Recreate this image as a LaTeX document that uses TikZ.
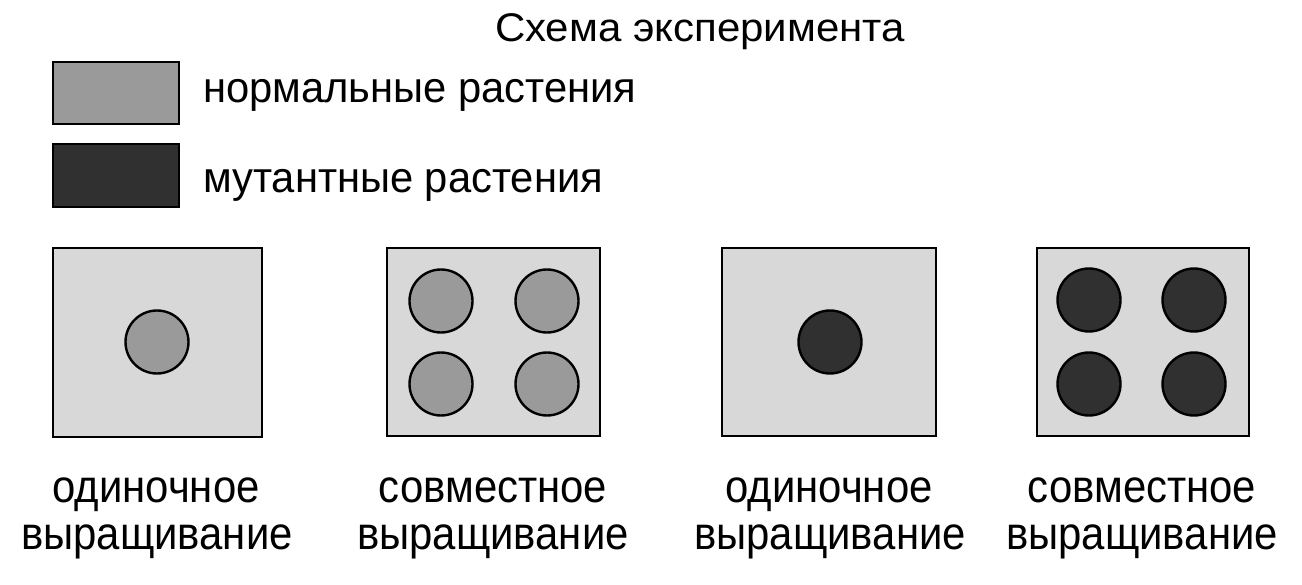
\documentclass[tikz,border=0pt]{standalone}
\usepackage{fontspec}
\setmainfont{Liberation Sans}
\newfontfamily\titlefont[FakeStretch=1.05]{Liberation Sans}
\newfontfamily\legfont[FakeStretch=0.97]{Liberation Sans}
\newfontfamily\capfont[FakeStretch=0.91]{Liberation Sans}
\definecolor{panelfill}{HTML}{D8D8D8}
\definecolor{normfill}{HTML}{9A9A9A}
\definecolor{mutfill}{HTML}{303030}
\begin{document}
\begin{tikzpicture}[x=1pt,y=-1pt,
  panel/.style={draw=black,line width=2pt,fill=panelfill},
  legendbox/.style={draw=black,line width=2pt},
  plant/.style={circle,draw=black,line width=2.4pt,inner sep=0pt,minimum size=63pt},
  normal/.style={plant,fill=normfill},
  mutant/.style={plant,fill=mutfill},
  titletext/.style={font=\titlefont\fontsize{40}{44}\selectfont,anchor=base,inner sep=0pt},
  legtext/.style={font=\legfont\fontsize{43}{50}\selectfont,anchor=base west,inner sep=0pt},
  captext/.style={font=\capfont\fontsize{46}{47}\selectfont,anchor=base,inner sep=0pt}]
\useasboundingbox (0,0) rectangle (1302,585);
\fill[white] (0,0) rectangle (1302,585);
% title
\node[titletext] (title) at (700,42) {Схема эксперимента};
% legend
\draw[legendbox,fill=normfill] (53,62) rectangle (179,124);
\node[legtext] (lnorm) at (203,103) {нормальные растения};
\draw[legendbox,fill=mutfill] (53,144) rectangle (179,207);
\node[legtext] (lmut) at (203,193) {мутантные растения};
% panels
\draw[panel] (53,248) rectangle (262,437);
\node[normal] (p1c) at (157,342) {};
\draw[panel] (387,248) rectangle (600,436);
\node[normal] (p2a) at (441,301) {};
\node[normal] (p2b) at (547,301) {};
\node[normal] (p2c) at (441,384) {};
\node[normal] (p2d) at (547,384) {};
\draw[panel] (722,248) rectangle (936,436);
\node[mutant] (p3c) at (830,342) {};
\draw[panel] (1037,248) rectangle (1249,436);
\node[mutant] (p4a) at (1089,300) {};
\node[mutant] (p4b) at (1194,300) {};
\node[mutant] (p4c) at (1089,384) {};
\node[mutant] (p4d) at (1194,384) {};
% captions
\node[captext] (c1a) at (156,502) {одиночное};
\node[captext] (c1b) at (157,549) {выращивание};
\node[captext] (c2a) at (493,502) {совместное};
\node[captext] (c2b) at (493,549) {выращивание};
\node[captext] (c3a) at (829,502) {одиночное};
\node[captext] (c3b) at (830,549) {выращивание};
\node[captext] (c4a) at (1142,502) {совместное};
\node[captext] (c4b) at (1142,549) {выращивание};
\end{tikzpicture}
\end{document}
